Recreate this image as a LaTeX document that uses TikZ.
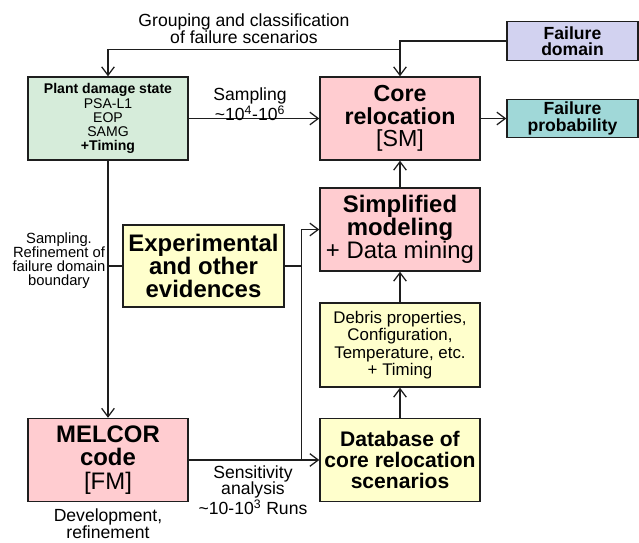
\documentclass[tikz,border=0pt]{standalone}
\usepackage{fontspec}
\setmainfont{Liberation Sans}
\usetikzlibrary{arrows.meta}

\definecolor{pdsgreen}{RGB}{214,236,218}
\definecolor{relpink}{RGB}{255,204,208}
\definecolor{fdlilac}{RGB}{210,210,240}
\definecolor{fpteal}{RGB}{160,216,216}
\definecolor{evyellow}{RGB}{255,255,204}
\definecolor{edge}{RGB}{30,30,30}

\begin{document}
\begin{tikzpicture}[x=0.025cm, y=-0.025cm, line width=0.9pt, draw=edge,
  box/.style={draw=edge, line width=0.95pt, inner sep=0pt, align=center,
    minimum width=4cm, minimum height=2.075cm},
  tag/.style={box, minimum width=3.275cm, minimum height=0.96cm,
    font=\bfseries\fontsize{12.5}{11.5}\selectfont},
  note/.style={align=center, inner sep=0pt},
  arr/.style={-{Straight Barb[length=6pt, width=9pt]}}]
  \useasboundingbox (0,0) rectangle (639,542);
  % boxes
  \node[box, fill=pdsgreen, font=\fontsize{10}{10}\selectfont] (pds) at (108,118.5)
    {\textbf{Plant damage state}\\PSA-L1\\EOP\\SAMG\\\textbf{+Timing}};
  \node[box, fill=relpink, font=\fontsize{16.5}{16}\selectfont] (core) at (400,118.5)
    {\textbf{Core}\\\textbf{relocation}\\{[SM]}};
  \node[tag, fill=fdlilac] (fdom) at (572.5,41) {Failure\\domain};
  \node[tag, fill=fpteal] (fprob) at (572.5,118.5) {Failure\\probability};
  \node[box, fill=relpink, font=\fontsize{17}{16.5}\selectfont] (simp) at (400,229.5)
    {\textbf{Simplified}\\\textbf{modeling}\\+ Data mining};
  \node[box, fill=evyellow, minimum width=4.025cm, minimum height=2.05cm,
    font=\bfseries\fontsize{17}{16.5}\selectfont] (exp) at (203.5,266)
    {Experimental\\and other\\evidences};
  \node[box, fill=evyellow, minimum height=2.1cm, font=\fontsize{12}{12.3}\selectfont]
    (debris) at (400,345)
    {Debris properties,\\Configuration,\\Temperature, etc.\\+ Timing};
  \node[box, fill=relpink, font=\fontsize{17}{16.5}\selectfont] (melcor) at (108,460)
    {\textbf{MELCOR}\\\textbf{code}\\{[FM]}};
  \node[box, fill=evyellow, font=\bfseries\fontsize{15}{14.9}\selectfont] (dbase) at (400,460)
    {Database of\\core relocation\\scenarios};
  % junctions
  \coordinate (grp) at (400,49.3);
  \coordinate (bus) at (301.7,0);
  % connectors
  \draw[arr] (fdom.west) -| (core.north);
  \draw[arr] (grp) -| (pds.north);
  \draw[arr] (pds) -- (core);
  \draw[arr] (core) -- (fprob);
  \draw[arr] (pds) -- (melcor);
  \draw (pds.south |- exp.west) -- (exp.west);
  \draw[arr] (exp.east) -- (exp.east -| bus) |- (simp.west);
  \draw (exp.east -| bus) -- (melcor.east -| bus);
  \draw[arr] (melcor) -- (dbase);
  \draw[arr] (dbase) -- (debris);
  \draw[arr] (debris) -- (simp);
  \draw[arr] (simp) -- (core);
  % labels
  \node[note, font=\fontsize{12.5}{12}\selectfont] (grplbl) at (244,29)
    {Grouping and classification\\of failure scenarios};
  \node[note, font=\fontsize{12.5}{12}\selectfont] (samplbl) at (250,104)
    {Sampling\\\textasciitilde10\textsuperscript{4}-10\textsuperscript{6}};
  \node[note, font=\fontsize{10.5}{10}\selectfont] (reflbl) at (59,261)
    {Sampling.\\Refinement of\\failure domain\\boundary};
  \node[note, font=\fontsize{12.5}{11.7}\selectfont] (senslbl) at (253,490)
    {Sensitivity\\analysis\\\textasciitilde10-10\textsuperscript{3} Runs};
  \node[note, font=\fontsize{12.5}{12}\selectfont] (devlbl) at (108,524)
    {Development,\\refinement};
\end{tikzpicture}
\end{document}
